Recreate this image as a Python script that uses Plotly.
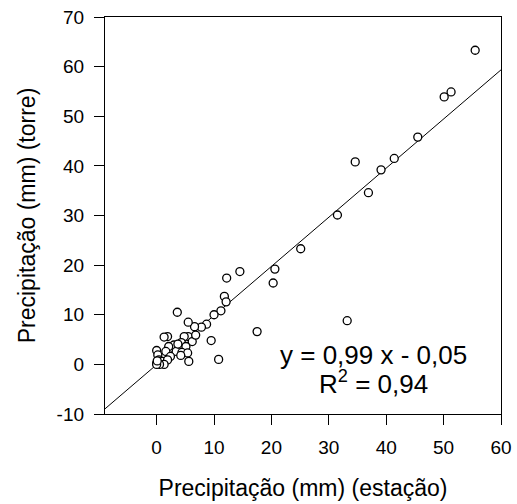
import plotly.graph_objects as go

# Data
estacao = [55.5, 50.1, 51.3, 45.5, 41.4, 39.1, 34.6, 36.9, 31.5, 25.1,
           20.6, 20.3, 14.5, 12.2, 11.8, 12.1, 11.2, 10.0, 8.7, 7.8,
           6.6, 5.5, 9.5, 10.8, 17.5, 33.2, 3.6,
           5.5, 4.8, 6.2, 6.8, 1.9, 1.3, 4.3, 3.0, 5.1, 3.4,
           2.1, 1.6, 4.4, 5.4, 5.6, 0.0, 0.2, 2.4, 0.4, 0.0,
           1.0, 1.9, 1.3, 0.5, 4.2, 3.7, 0.0, 0.1]
torre = [63.3, 53.9, 54.9, 45.8, 41.5, 39.2, 40.8, 34.6, 30.1, 23.3,
         19.2, 16.4, 18.7, 17.4, 13.7, 12.6, 10.8, 10.0, 8.1, 7.5,
         7.6, 8.5, 4.8, 1.0, 6.6, 8.8, 10.5,
         5.6, 5.6, 4.6, 5.9, 5.6, 5.5, 4.4, 3.9, 3.6, 2.6,
         3.6, 2.6, 2.4, 2.3, 0.6, 2.8, 1.9, 1.6, 0.9, 0.2,
         0.6, 0.9, 0.0, 0.0, 1.8, 4.1, 0.0, 0.7]

slope = 0.99
intercept = -0.05
r2 = 0.94

x_range = [-9, 60]
y_range = [-10, 70]
x_ticks = [0, 10, 20, 30, 40, 50, 60]
y_ticks = [-10, 0, 10, 20, 30, 40, 50, 60, 70]
x_ticktext = [str(v) for v in x_ticks]
y_ticktext = [str(v) for v in y_ticks]

fmt = lambda v: f"{abs(v):.2f}".replace(".", ",")
eq_text = f"y = {fmt(slope)} x {'-' if intercept < 0 else '+'} {fmt(intercept)}"
r2_text = f"R<sup>2</sup> = {fmt(r2)}"

line_x = x_range
line_y = [slope * v + intercept for v in line_x]

FONT = "Liberation Sans, Arial, sans-serif"

fig = go.Figure()
fig.add_trace(go.Scatter(x=line_x, y=line_y, mode="lines",
                         line=dict(color="black", width=1), hoverinfo="skip",
                         showlegend=False))
fig.add_trace(go.Scatter(x=estacao, y=torre, mode="markers",
                         marker=dict(symbol="circle", size=8, color="white",
                                     line=dict(color="black", width=1.3)),
                         showlegend=False))

fig.add_annotation(x=37.8, y=1.9, xref="x", yref="y", text=eq_text,
                   showarrow=False, font=dict(family=FONT, size=26, color="black"),
                   xanchor="center", yanchor="middle")
fig.add_annotation(x=37.8, y=-3.7, xref="x", yref="y", text=r2_text,
                   showarrow=False, font=dict(family=FONT, size=26, color="black"),
                   xanchor="center", yanchor="middle")

axis_common = dict(showgrid=False, zeroline=False, showline=True, linecolor="black",
                   linewidth=1.3, mirror=True, ticks="outside", ticklen=10,
                   tickwidth=1.3, tickcolor="black", automargin=False,
                   tickfont=dict(family=FONT, size=19, color="black"))

fig.update_xaxes(range=x_range, tickvals=x_ticks, ticktext=x_ticktext,
                 ticklabelstandoff=6,
                 title=dict(text="Precipitação (mm) (estação)", standoff=22,
                            font=dict(family=FONT, size=23, color="black")),
                 **axis_common)
fig.update_yaxes(range=y_range, tickvals=y_ticks, ticktext=y_ticktext,
                 ticklabelstandoff=6,
                 title=dict(text="Precipitação (mm) (torre)", standoff=14,
                            font=dict(family=FONT, size=23, color="black")),
                 **axis_common)

fig.update_layout(width=517, height=504, margin=dict(l=105, r=16, t=17, b=90),
                  plot_bgcolor="white", paper_bgcolor="white")

fig.write_html("out.html", config={"displayModeBar": False},
               post_script="document.body.style.margin='0';document.body.style.overflow='hidden';")
